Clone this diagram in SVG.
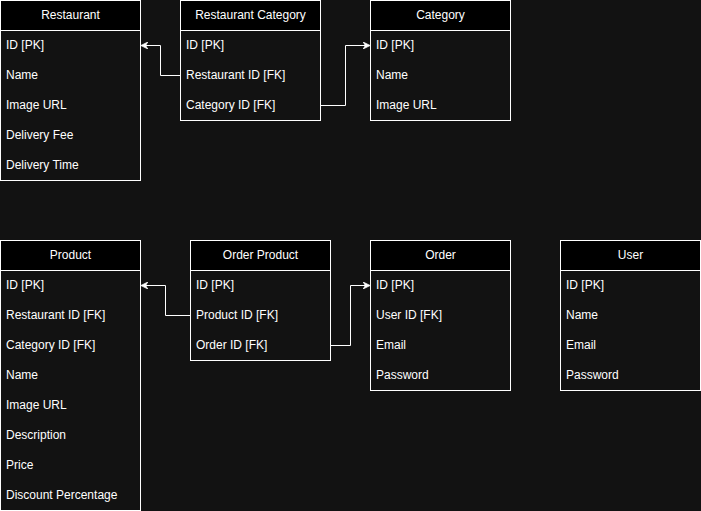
<svg xmlns="http://www.w3.org/2000/svg" width="701" height="511" viewBox="0 0 701 511">
<style>
.bg{fill:#121212}
.box{fill:#121212;stroke:#ffffff;stroke-width:1}
.hd{fill:#000000;stroke:#ffffff;stroke-width:1}
.ht{font-family:"Liberation Sans",Arial,sans-serif;font-size:12px;fill:#ffffff;text-anchor:middle;dominant-baseline:central}
.rt{font-family:"Liberation Sans",Arial,sans-serif;font-size:12px;fill:#ffffff;dominant-baseline:central}
.cn{fill:none;stroke:#ffffff;stroke-width:1}
</style>
<defs>
<marker id="arr" viewBox="0 0 10 10" refX="9" refY="5" markerWidth="7" markerHeight="7" orient="auto" markerUnits="userSpaceOnUse">
<path d="M0,0 L10,5 L0,10 L3,5 Z" fill="#ffffff" stroke="#ffffff" stroke-width="1"/>
</marker>
</defs>
<rect class="bg" x="0" y="0" width="701" height="511"/>

<g id="restaurant">
<rect class="box" x="0.5" y="0.5" width="140" height="180"/>
<rect class="hd" x="0.5" y="0.5" width="140" height="30"/>
<text class="ht" x="70.5" y="14.5">Restaurant</text>
<text class="rt" x="6" y="44.5">ID [PK]</text>
<text class="rt" x="6" y="74.5">Name</text>
<text class="rt" x="6" y="104.5">Image URL</text>
<text class="rt" x="6" y="134.5">Delivery Fee</text>
<text class="rt" x="6" y="164.5">Delivery Time</text>
</g>

<g id="restaurant-category">
<rect class="box" x="180.5" y="0.5" width="140" height="120"/>
<rect class="hd" x="180.5" y="0.5" width="140" height="30"/>
<text class="ht" x="250.5" y="14.5">Restaurant Category</text>
<text class="rt" x="186" y="44.5">ID [PK]</text>
<text class="rt" x="186" y="74.5">Restaurant ID [FK]</text>
<text class="rt" x="186" y="104.5">Category ID [FK]</text>
</g>

<g id="category">
<rect class="box" x="370.5" y="0.5" width="140" height="120"/>
<rect class="hd" x="370.5" y="0.5" width="140" height="30"/>
<text class="ht" x="440.5" y="14.5">Category</text>
<text class="rt" x="376" y="44.5">ID [PK]</text>
<text class="rt" x="376" y="74.5">Name</text>
<text class="rt" x="376" y="104.5">Image URL</text>
</g>

<g id="product">
<rect class="box" x="0.5" y="240.5" width="140" height="270"/>
<rect class="hd" x="0.5" y="240.5" width="140" height="30"/>
<text class="ht" x="70.5" y="254.5">Product</text>
<text class="rt" x="6" y="284.5">ID [PK]</text>
<text class="rt" x="6" y="314.5">Restaurant ID [FK]</text>
<text class="rt" x="6" y="344.5">Category ID [FK]</text>
<text class="rt" x="6" y="374.5">Name</text>
<text class="rt" x="6" y="404.5">Image URL</text>
<text class="rt" x="6" y="434.5">Description</text>
<text class="rt" x="6" y="464.5">Price</text>
<text class="rt" x="6" y="494.5">Discount Percentage</text>
</g>

<g id="order-product">
<rect class="box" x="190.5" y="240.5" width="140" height="120"/>
<rect class="hd" x="190.5" y="240.5" width="140" height="30"/>
<text class="ht" x="260.5" y="254.5">Order Product</text>
<text class="rt" x="196" y="284.5">ID [PK]</text>
<text class="rt" x="196" y="314.5">Product ID [FK]</text>
<text class="rt" x="196" y="344.5">Order ID [FK]</text>
</g>

<g id="order">
<rect class="box" x="370.5" y="240.5" width="140" height="150"/>
<rect class="hd" x="370.5" y="240.5" width="140" height="30"/>
<text class="ht" x="440.5" y="254.5">Order</text>
<text class="rt" x="376" y="284.5">ID [PK]</text>
<text class="rt" x="376" y="314.5">User ID [FK]</text>
<text class="rt" x="376" y="344.5">Email</text>
<text class="rt" x="376" y="374.5">Password</text>
</g>

<g id="user">
<rect class="box" x="560.5" y="240.5" width="140" height="150"/>
<rect class="hd" x="560.5" y="240.5" width="140" height="30"/>
<text class="ht" x="630.5" y="254.5">User</text>
<text class="rt" x="566" y="284.5">ID [PK]</text>
<text class="rt" x="566" y="314.5">Name</text>
<text class="rt" x="566" y="344.5">Email</text>
<text class="rt" x="566" y="374.5">Password</text>
</g>

<g id="connectors">
<path class="cn" d="M180.5,75.5 H160.5 V45.5 H141.5" marker-end="url(#arr)"/>
<path class="cn" d="M320.5,105.5 H345.5 V45.5 H369.5" marker-end="url(#arr)"/>
<path class="cn" d="M190.5,315.5 H165.5 V285.5 H141.5" marker-end="url(#arr)"/>
<path class="cn" d="M330.5,345.5 H350.5 V285.5 H369.5" marker-end="url(#arr)"/>
</g>
</svg>
